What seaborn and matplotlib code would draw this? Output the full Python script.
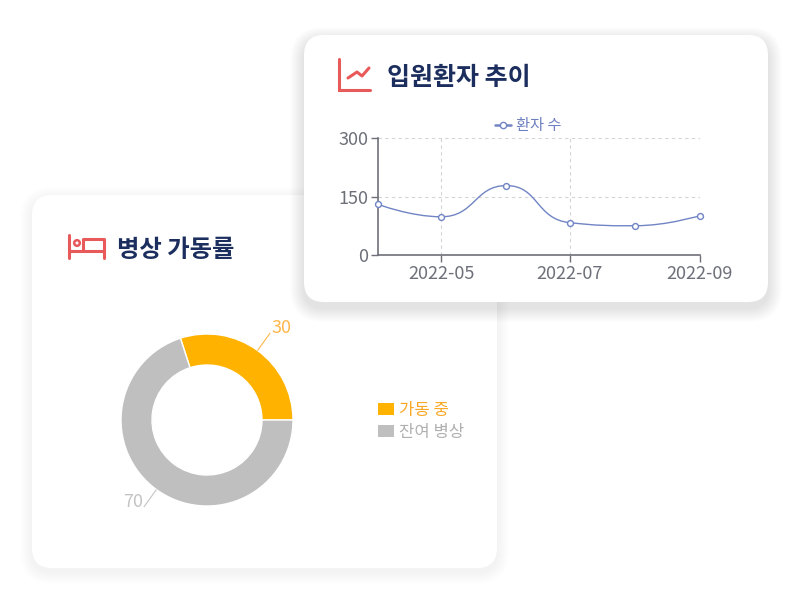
import numpy as np
import pandas as pd
import matplotlib
matplotlib.use('Agg')
import matplotlib.pyplot as plt
import matplotlib.dates as mdates
import seaborn as sns
from matplotlib.patches import FancyBboxPatch, PathPatch, Circle, Patch
from matplotlib.path import Path
from matplotlib.lines import Line2D

# ---------------- data ----------------
line_title = '입원환자 추이'
line_series = '환자 수'
months = ['2022-04-01', '2022-05-01', '2022-06-01', '2022-07-01', '2022-08-01', '2022-09-01']
patients = [130, 98, 178, 83, 75, 101]
y_ticks = [0, 150, 300]
x_ticks = ['2022-05-01', '2022-07-01', '2022-09-01']

bed_title = '병상 가동률'
bed_labels = ['가동 중', '잔여 병상']
bed_values = [30, 70]

# ---------------- style ----------------
NAVY = '#1c2e5e'
RED = '#e85a5a'
LINE = '#7184c4'
AXIS = '#6e7079'
ORANGE = '#ffb300'
GREY = '#bfbfbf'
bed_colors = [ORANGE, GREY]
label_colors = ['#ffb84a', '#c4c4c4']

sns.set_theme(style='white')
plt.rcParams['font.family'] = ['Noto Sans CJK KR', 'DejaVu Sans']

fig = plt.figure(figsize=(8, 6), dpi=100)
fig.patch.set_facecolor('white')

bg = fig.add_axes([0, 0, 1, 1], zorder=0)
bg.set_xlim(0, 800)
bg.set_ylim(600, 0)
bg.axis('off')


def card(x0, y0, x1, y1, alpha, spread, dy):
    for i in range(spread, 0, -1):
        bg.add_patch(FancyBboxPatch((x0 - i, y0 - i + dy), x1 - x0 + 2 * i, y1 - y0 + 2 * i,
                                    boxstyle=f'round,pad=0,rounding_size={20 + i}',
                                    fc='black', ec='none', alpha=alpha))
    bg.add_patch(FancyBboxPatch((x0, y0), x1 - x0, y1 - y0,
                                boxstyle='round,pad=0,rounding_size=20', fc='white', ec='none'))


card(32, 195, 497, 568, 0.0022, 12, 4)
card(304, 35, 768, 302, 0.006, 14, 6)

# ---------------- titles & icons ----------------
bg.text(387, 78, line_title, fontsize=18, fontweight='bold', color=NAVY, va='center', ha='left')
bg.text(117, 250, bed_title, fontsize=17.5, fontweight='bold', color=NAVY, va='center', ha='left')

# chart icon
bg.plot([339, 339, 370], [59, 90, 90], color=RED, lw=2.2, solid_capstyle='round', solid_joinstyle='miter')
bg.plot([348, 357, 362, 369], [78, 72, 76, 68], color=RED, lw=2.2, solid_capstyle='round')
# bed icon
bg.plot([69, 69], [235, 258], color=RED, lw=2.2, solid_capstyle='round')
bg.plot([69, 104], [251, 251], color=RED, lw=2.2)
bg.plot([83, 83, 104, 104], [251, 239, 239, 258], color=RED, lw=2.2, solid_capstyle='round')
bg.add_patch(Circle((77, 243), 2.8, fc='none', ec=RED, lw=1.8))

# ---------------- line chart ----------------
ax = fig.add_axes([378 / 800, 1 - 255 / 600, 322 / 800, 117 / 600], zorder=2)
ax.patch.set_alpha(0)
df = pd.DataFrame({'date': pd.to_datetime(months), 'patients': patients})
ax.set_xlim(df['date'].iloc[0], df['date'].iloc[-1])
ax.set_ylim(y_ticks[0], y_ticks[-1])

# smooth curve (echarts-like bezier smoothing computed through the axes transform)
xs = mdates.date2num(df['date'])
ys = df['patients'].to_numpy(float)
pts = ax.transData.transform(np.column_stack([xs, ys]))
smooth = 0.5
verts = [tuple(pts[0])]
codes = [Path.MOVETO]
cp0 = pts[0].copy()
n = len(pts)
for k in range(1, n):
    x, y = pts[k]
    px, py = pts[k - 1]
    if k == n - 1:
        cp1 = np.array([x, y])
        ncp0 = np.array([x, y])
    else:
        nx, ny = pts[k + 1]
        vx, vy = nx - px, ny - py
        lp = np.hypot(x - px, y - py)
        ln = np.hypot(nx - x, ny - y)
        r = ln / (ln + lp)
        ncx = x + vx * smooth * r
        ncy = y + vy * smooth * r
        ncx = min(ncx, max(nx, x)); ncy = min(ncy, max(ny, y))
        ncx = max(ncx, min(nx, x)); ncy = max(ncy, min(ny, y))
        vx, vy = ncx - x, ncy - y
        c1x = x - vx * lp / ln
        c1y = y - vy * lp / ln
        c1x = min(c1x, max(px, x)); c1y = min(c1y, max(py, y))
        c1x = max(c1x, min(px, x)); c1y = max(c1y, min(py, y))
        vx, vy = x - c1x, y - c1y
        ncx = x + vx * ln / lp
        ncy = y + vy * ln / lp
        cp1 = np.array([c1x, c1y])
        ncp0 = np.array([ncx, ncy])
    verts += [tuple(cp0), tuple(cp1), (x, y)]
    codes += [Path.CURVE4] * 3
    cp0 = ncp0
data_verts = ax.transData.inverted().transform(np.array(verts))
ax.add_patch(PathPatch(Path(data_verts, codes), fill=False, ec=LINE, lw=1.0,
                       transform=ax.transData, zorder=2))

sns.scatterplot(data=df, x='date', y='patients', ax=ax, marker='o', s=18,
                color='white', edgecolor=LINE, linewidth=1.0, zorder=3, clip_on=False)
ax.set_xlabel('')
ax.set_ylabel('')

ax.set_yticks(y_ticks)
ax.set_xticks(pd.to_datetime(x_ticks))
ax.xaxis.set_major_formatter(mdates.DateFormatter('%Y-%m'))
ax.set_xlim(df['date'].iloc[0], df['date'].iloc[-1])
ax.set_ylim(y_ticks[0], y_ticks[-1])
for s in ['top', 'right']:
    ax.spines[s].set_visible(False)
for s in ['left', 'bottom']:
    ax.spines[s].set_color(AXIS)
    ax.spines[s].set_linewidth(1.2)
ax.grid(True, color='#d4d4d4', linestyle=(0, (3, 3)), linewidth=0.8)
ax.tick_params(axis='both', bottom=True, left=True, direction='out', length=5, width=1,
               color=AXIS, labelcolor=AXIS, labelsize=13, pad=2)

h = Line2D([], [], color=LINE, marker='o', markersize=4.5, markerfacecolor='white',
           markeredgecolor=LINE, lw=1.8)
leg = ax.legend([h], [line_series], loc='center', bbox_to_anchor=(0.467, 1.103),
                frameon=False, fontsize=11, handlelength=1.0, handletextpad=0.35,
                borderpad=0, borderaxespad=0)
for t in leg.get_texts():
    t.set_color('#6f80c0')

# ---------------- donut ----------------
ax2 = fig.add_axes([(207 - 120) / 800, 1 - (420 + 120) / 600, 240 / 800, 240 / 600], zorder=2)
wedges, _ = ax2.pie(bed_values, colors=bed_colors, startangle=0, counterclock=True, radius=1,
                    wedgeprops=dict(width=31 / 86, edgecolor='white', linewidth=1))
lim = 120 / 86
ax2.set_xlim(-lim, lim)
ax2.set_ylim(-lim, lim)
ax2.axis('off')
total = sum(bed_values)
cum = 0
for v, c in zip(bed_values, label_colors):
    mid = np.deg2rad(360 * (cum + v / 2) / total)
    cum += v
    cx, cy = np.cos(mid), np.sin(mid)
    x0, y0 = 1.0 * cx, 1.0 * cy
    x1, y1 = 1.25 * cx, 1.25 * cy
    ax2.plot([x0, x1], [y0, y1], color=c, lw=0.8, solid_capstyle='butt')
    sign = 1 if cx >= 0 else -1
    ax2.text(x1 + sign * 0.01, y1 + 0.06, str(v), color=c, fontsize=13,
             ha='left' if sign > 0 else 'right', va='center')

handles = [Patch(fc=c, ec='none') for c in bed_colors]
leg2 = fig.legend(handles, bed_labels, loc='center left', bbox_to_anchor=(378 / 800, 1 - 421 / 600),
                  frameon=False, fontsize=12, handlelength=0.95, handleheight=0.75,
                  handletextpad=0.3, labelspacing=0.3, borderpad=0, borderaxespad=0)
for t, c in zip(leg2.get_texts(), ['#f9a825', '#b0b0b0']):
    t.set_color(c)

fig.savefig('out.png', dpi=100, facecolor='white')
